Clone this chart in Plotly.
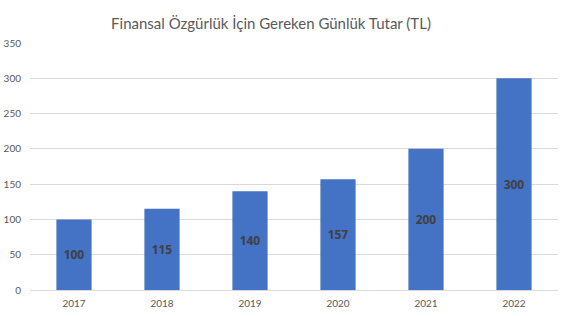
import plotly.graph_objects as go

years = ["2017", "2018", "2019", "2020", "2021", "2022"]
values = [100, 115, 140, 157, 200, 300]
title = "Finansal Özgürlük İçin Gereken Günlük Tutar (TL)"

FONT = "Lato"

fig = go.Figure(go.Bar(
    x=years, y=values,
    marker=dict(color="#4472C4", line=dict(width=0)),
    text=[str(v) for v in values],
    textposition="inside",
    insidetextanchor="middle",
    textangle=0,
    textfont=dict(family="Open Sans", size=12, color="#404040", weight="bold"),
))

fig.update_layout(
    width=565, height=316,
    margin=dict(l=30, r=7, t=43, b=26),
    paper_bgcolor="white", plot_bgcolor="white",
    bargap=0.6,
    title=dict(text=title, x=271 / 565, xanchor="center", y=0.925, yanchor="middle",
               font=dict(family=FONT, size=15, color="#595959")),
    showlegend=False,
)
fig.update_xaxes(type="category", showgrid=False, showline=False, ticks="",
                 automargin=False, ticklabelstandoff=6,
                 tickfont=dict(family=FONT, size=10, color="#595959"))
fig.update_yaxes(range=[0, 350], dtick=50, showgrid=True, gridcolor="#D9D9D9",
                 gridwidth=1, zeroline=True, zerolinecolor="#D9D9D9", zerolinewidth=1,
                 showline=False, ticks="", automargin=False, ticklabelstandoff=8,
                 tickfont=dict(family=FONT, size=10, color="#595959"))

fig.write_html("out.html")
